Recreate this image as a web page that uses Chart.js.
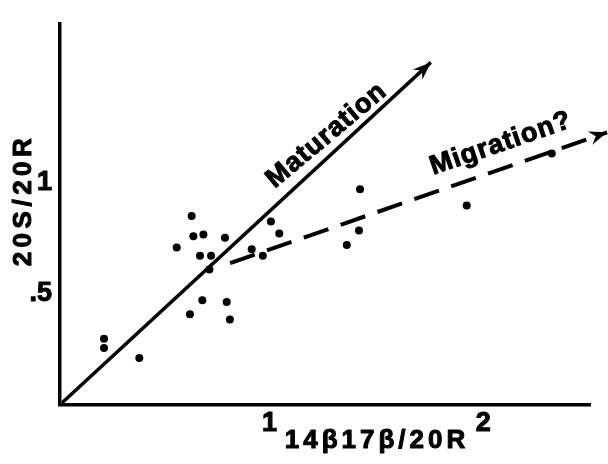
<!DOCTYPE html>
<html>
<head>
<meta charset="utf-8">
<script src="https://cdn.jsdelivr.net/npm/chart.js@4"></script>
<style>
  html, body { margin: 0; padding: 0; background: #fff; }
  #wrap { width: 608px; height: 464px; }
</style>
</head>
<body>
<div id="wrap"><canvas id="ratioChart" width="608" height="464"></canvas></div>
<script>
// 14β17β/20R against 20S/20R, one entry per sample
const sampleX = [0.226, 0.226, 0.391, 0.628, 0.686, 0.800, 0.815, 0.566, 0.636, 0.644, 0.691, 0.792,
                 0.675, 0.727, 0.719, 0.917, 0.969, 1.007, 1.046, 1.362, 1.419, 1.424, 1.923, 2.321];
const sampleY = [0.298, 0.257, 0.212, 0.409, 0.472, 0.464, 0.385, 0.709, 0.851, 0.760, 0.768, 0.753,
                 0.672, 0.672, 0.610, 0.702, 0.672, 0.826, 0.772, 0.721, 0.786, 0.972, 0.899, 1.133];

// trend lines, start and end
const maturationX = [0.03, 1.755];
const maturationY = [0.01, 1.543];
const migrationX = [0.816, 2.58];
const migrationY = [0.639, 1.228];

const xTicks = [1, 2];
const yTicks = [0.5, 1];
const xTitle = '14β17β/20R';
const yTitle = '20S/20R';

const FONT = '"Liberation Sans", Arial, Helvetica, sans-serif';

const toPoints = (xs, ys) => xs.map((v, i) => ({ x: v, y: ys[i] }));

// filled + outlined so the lettering comes out heavy
const heavyText = (ctx, text, x, y) => {
  ctx.fillText(text, x, y);
  ctx.strokeText(text, x, y);
};

// arrowheads, slanted line labels and the axis titles
const annotate = {
  id: 'annotate',
  afterDatasetsDraw(chart, args, opts) {
    const { ctx, scales: { x, y } } = chart;
    ctx.save();
    ctx.fillStyle = '#000';
    ctx.strokeStyle = '#000';
    ctx.lineWidth = 1;
    ctx.lineJoin = 'round';

    chart.data.datasets.forEach(ds => {
      if (!ds.showLine) return;
      const pts = ds.data;
      const a = pts[pts.length - 2];
      const b = pts[pts.length - 1];
      const x0 = x.getPixelForValue(a.x), y0 = y.getPixelForValue(a.y);
      const x1 = x.getPixelForValue(b.x), y1 = y.getPixelForValue(b.y);
      ctx.save();
      ctx.translate(x1, y1);
      ctx.rotate(Math.atan2(y1 - y0, x1 - x0));
      ctx.beginPath();
      ctx.moveTo(0, 0);
      ctx.lineTo(-18, -7);
      ctx.lineTo(-12, 0);
      ctx.lineTo(-18, 7);
      ctx.closePath();
      ctx.fill();
      ctx.restore();
    });

    ctx.font = 'bold 27px ' + FONT;
    ctx.textAlign = 'center';
    ctx.textBaseline = 'middle';
    ctx.letterSpacing = '1px';
    opts.labels.forEach(l => {
      ctx.save();
      ctx.translate(x.getPixelForValue(l.x), y.getPixelForValue(l.y));
      ctx.rotate(l.angle * Math.PI / 180);
      heavyText(ctx, l.text, 0, 0);
      ctx.restore();
    });

    ctx.font = 'bold 26px ' + FONT;
    ctx.letterSpacing = '4px';
    heavyText(ctx, xTitle, 377, 441);
    ctx.save();
    ctx.translate(24, 200);
    ctx.rotate(-Math.PI / 2);
    ctx.letterSpacing = '4.5px';
    heavyText(ctx, yTitle, 0, 0);
    ctx.restore();
    ctx.restore();
  }
};

const tickFont = { family: FONT, size: 27, weight: 'bold' };

new Chart(document.getElementById('ratioChart'), {
  type: 'scatter',
  data: {
    datasets: [
      {
        label: 'Samples',
        data: toPoints(sampleX, sampleY),
        pointRadius: 4,
        pointBackgroundColor: '#000',
        pointBorderWidth: 0
      },
      {
        label: 'Maturation',
        data: toPoints(maturationX, maturationY),
        showLine: true,
        borderColor: '#000',
        borderWidth: 3.5,
        pointRadius: 0,
        clip: false
      },
      {
        label: 'Migration?',
        data: toPoints(migrationX, migrationY),
        showLine: true,
        borderColor: '#000',
        borderWidth: 4,
        borderDash: [26, 13],
        pointRadius: 0,
        clip: false
      }
    ]
  },
  options: {
    responsive: false,
    animation: false,
    layout: { padding: { top: 14, right: 18, left: 0, bottom: 0 } },
    scales: {
      x: {
        type: 'linear',
        min: 0.02,
        max: 2.5,
        afterBuildTicks: s => { s.ticks = xTicks.map(v => ({ value: v })); },
        afterFit: s => { s.height = 59; },
        grid: { display: false, drawTicks: false },
        border: { display: true, color: '#000', width: 3.5 },
        ticks: {
          color: '#000', font: tickFont, padding: 2, maxRotation: 0,
          textStrokeColor: '#000', textStrokeWidth: 1,
          callback: v => String(v)
        }
      },
      y: {
        type: 'linear',
        min: 0,
        max: 1.715,
        afterBuildTicks: s => { s.ticks = yTicks.map(v => ({ value: v })); },
        afterFit: s => { s.width = 60; },
        grid: { display: false, drawTicks: false },
        border: { display: true, color: '#000', width: 3.5 },
        ticks: {
          color: '#000', font: tickFont, padding: 8,
          textStrokeColor: '#000', textStrokeWidth: 1,
          callback: v => String(v).replace(/^0\./, '.')
        }
      }
    },
    plugins: {
      legend: { display: false },
      tooltip: { enabled: false },
      annotate: {
        labels: [
          { text: 'Maturation', x: 1.268, y: 1.214, angle: -40 },
          { text: 'Migration?', x: 2.083, y: 1.177, angle: -19 }
        ]
      }
    }
  },
  plugins: [annotate]
});
</script>
</body>
</html>
